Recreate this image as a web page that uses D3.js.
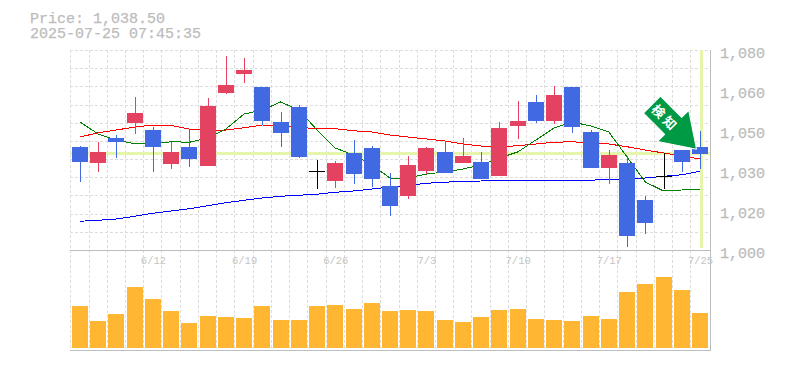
<!DOCTYPE html>
<html><head><meta charset="utf-8">
<script src="https://cdn.jsdelivr.net/npm/d3@7"></script>
<style>
html,body{margin:0;padding:0;background:#fff;overflow:hidden}
svg{display:block}
text{font-family:"Liberation Mono",monospace;fill:#bcbcbc}
</style></head><body>
<svg id="c" width="785" height="370"></svg>
<script>
const titleLines = ["Price: 1,038.50", "2025-07-25 07:45:35"];
const dates = ["6/6","6/9","6/10","6/11","6/12","6/13","6/16","6/17","6/18","6/19","6/20","6/23","6/24","6/25","6/26","6/27","6/30","7/1","7/2","7/3","7/4","7/7","7/8","7/9","7/10","7/11","7/14","7/15","7/16","7/17","7/18","7/22","7/23","7/24","7/25"];
const dateTicks = ["6/12","6/19","6/26","7/3","7/10","7/17","7/25"];
const priceTicks = [1000,1016,1032,1048,1064,1080];
const opens  = [1041.2,1034.8,1044.8,1050.8,1048,1034.4,1041.2,1033.6,1062.8,1070.4,1065.2,1051.2,1057.2,1031.6,1027.6,1038.8,1040.8,1025.6,1021.6,1031.6,1039.2,1034.8,1035.2,1029.6,1049.6,1059.2,1051.6,1065.2,1047.2,1032.8,1034.8,1020,1029.6,1040,1041.2];
const highs  = [1041.6,1043.2,1046,1061.2,1049.2,1043.2,1048,1060.8,1077.6,1076.8,1065.2,1055.2,1058,1036,1035.6,1044,1041.6,1030.8,1037.6,1041.2,1043.6,1044.8,1039.2,1051.2,1059.6,1062,1065.6,1065.2,1048,1040,1037.6,1021.6,1038.8,1040,1047.6];
const lows   = [1027.2,1031.2,1036.8,1046.4,1031.2,1032.4,1033.2,1033.6,1062.4,1066.8,1050,1041.2,1036.8,1024.4,1024.8,1026.4,1025.2,1013.6,1020.4,1030.4,1030.8,1034.8,1028.4,1029.6,1044.4,1050.8,1050.4,1046.8,1032.8,1026.4,1001.2,1006.4,1024.4,1031.2,1032.4];
const closes = [1035.2,1039.2,1043.2,1054.8,1041.2,1039.2,1036.4,1057.6,1066,1072,1051.6,1046.8,1037.2,1031.6,1034.8,1030.4,1028.4,1017.6,1034,1040.8,1030.8,1037.6,1028.4,1048.8,1051.6,1051.6,1062,1049.2,1032.8,1038,1005.6,1010.8,1029.6,1035.2,1038.5];
const maShort = [1051.2,1046.4,1044,1042.5,1042.5,1043.3,1043.1,1044.8,1048.4,1054.4,1056,1059.2,1056,1048,1040.8,1038,1034,1028.8,1028.8,1030.4,1031.2,1032.4,1034,1036.8,1039.2,1044,1048.8,1051.2,1049.6,1047.2,1037.2,1027.2,1023.6,1024,1024.4];
const maMid = [1045.2,1046.9,1048,1049.2,1050,1049.8,1048.4,1047.7,1048,1048.9,1050,1049.8,1048.9,1048.7,1048.5,1047.7,1047.2,1046,1045.2,1044.4,1043.6,1042.4,1041.6,1041.3,1041.7,1042.4,1043.1,1043.3,1042.8,1042.4,1041.3,1040,1038.8,1037.6,1036.4];
const maLong = [1011.5,1011.9,1012.4,1013.5,1014.7,1015.6,1016.5,1017.7,1018.9,1019.9,1020.8,1021.5,1021.9,1022.3,1023.1,1023.6,1024.4,1025.2,1025.9,1026.7,1027.1,1027.5,1027.6,1027.9,1027.9,1027.9,1027.9,1027.9,1027.9,1028.3,1028.4,1028.8,1029.5,1030.1,1031.5];
const volumes = [125,80,101,182,146,110,74,95,92,89,125,83,83,125,128,116,134,110,113,110,83,77,92,113,116,86,83,80,95,86,167,191,212,173,104];
const lastPrice = 1038.5;
const signalText = "検知";

const svg = d3.select("#c");
const L=70, R=710, T=50, B=250, VB=350;
const BODY=16;
const x = d3.scalePoint().domain(dates).range([80,700]);
const y = d3.scaleLinear().domain([1000,1080]).range([B,T]);
const v = d3.scaleLinear().domain([0,294]).range([348,250]);
const idx = dates.map((_,i)=>i);
const px = n=>Math.round(n)+0.5;

// grid
const grid = svg.append("g").attr("stroke","#dcdcdc").attr("stroke-dasharray","3 2").attr("shape-rendering","crispEdges");
d3.range(0,12).forEach(k=>{
  const gy=px(T+(B-T)*k/11);
  if(k<11) grid.append("line").attr("x1",L).attr("x2",R).attr("y1",gy).attr("y2",gy);
});
dates.forEach(d=>{
  const gx=px(x(d)-9.7);
  grid.append("line").attr("x1",gx).attr("x2",gx).attr("y1",T).attr("y2",VB);
});

// highlights
const hl = svg.append("g").attr("stroke","#e5f5ab").attr("stroke-width",3).attr("shape-rendering","crispEdges");
hl.append("line").attr("x1",L).attr("x2",R).attr("y1",y(lastPrice)).attr("y2",y(lastPrice));
hl.append("line").attr("x1",x(dates[34])+1).attr("x2",x(dates[34])+1).attr("y1",T).attr("y2",B-2);

// frame
const frame = svg.append("g").attr("stroke","#bdbdbd").attr("shape-rendering","crispEdges");
frame.append("line").attr("x1",L).attr("x2",R+1).attr("y1",B+.5).attr("y2",B+.5);
frame.append("line").attr("x1",L).attr("x2",R+1).attr("y1",VB+.5).attr("y2",VB+.5);
frame.append("line").attr("x1",R+.5).attr("x2",R+.5).attr("y1",T).attr("y2",VB);

// MAs
const line = d3.line().x((d,i)=>x(dates[i])).y(d=>y(d));
[[maLong,"#0000ff"],[maMid,"#ff0000"],[maShort,"#008000"]].forEach(([s,c])=>{
  svg.append("path").attr("d",line(s)).attr("fill","none").attr("stroke",c).attr("stroke-width",1).attr("shape-rendering","crispEdges");
});

// candles
const BLUE="#4169e1", RED="#e34260";
const col=i=>closes[i]===opens[i]?"#000":(closes[i]>opens[i]?RED:BLUE);
const cg = svg.append("g").attr("shape-rendering","crispEdges");
cg.selectAll("line.w").data(idx).join("line").attr("class","w")
  .attr("x1",i=>px(x(dates[i]))).attr("x2",i=>px(x(dates[i])))
  .attr("y1",i=>y(highs[i])).attr("y2",i=>y(lows[i])).attr("stroke",col);
cg.selectAll("rect.b").data(idx.filter(i=>closes[i]!==opens[i])).join("rect").attr("class","b")
  .attr("x",i=>Math.round(x(dates[i])-BODY/2)).attr("width",BODY)
  .attr("y",i=>y(Math.max(opens[i],closes[i])))
  .attr("height",i=>Math.abs(y(opens[i])-y(closes[i]))).attr("fill",col);
cg.selectAll("line.d").data(idx.filter(i=>closes[i]===opens[i])).join("line").attr("class","d")
  .attr("x1",i=>x(dates[i])-BODY/2).attr("x2",i=>x(dates[i])+BODY/2)
  .attr("y1",i=>y(opens[i])+.5).attr("y2",i=>y(opens[i])+.5).attr("stroke","#000");

// volume
svg.append("g").attr("shape-rendering","crispEdges").selectAll("rect").data(idx).join("rect")
  .attr("x",i=>Math.round(x(dates[i])-BODY/2)).attr("width",BODY)
  .attr("y",i=>v(volumes[i])).attr("height",i=>v(0)-v(volumes[i])).attr("fill","#ffb733");

// signal arrow, anchored on the last candle
const tipX=x(dates[34])-3.5, tipY=y(closes[34])-4.5;
const arrow = svg.append("g").attr("transform",`translate(${tipX},${tipY}) rotate(45)`);
arrow.append("path").attr("d","M0,0L-33,-22L-33,-12L-63,-12L-63,12L-33,12L-33,22Z")
  .attr("fill","#009944").attr("stroke","#fff").attr("stroke-width",1).attr("stroke-linejoin","round");
arrow.append("text").attr("x",-44).attr("y",5).attr("text-anchor","middle")
  .style("font-family",'"Noto Sans CJK JP"').style("font-size","13px").style("font-weight","700").style("fill","#fff")
  .attr("letter-spacing",3).text(signalText);

// axes
const yAxis = d3.axisRight(y).tickValues(priceTicks).tickSize(0).tickPadding(0)
  .tickFormat(d=>d3.format(",")(Math.round(d/10)*10));
const ya = svg.append("g").attr("transform",`translate(720,3)`).call(yAxis);
ya.select(".domain").remove();
ya.selectAll("text").style("font-size","15px").style("fill","#bcbcbc").style("font-family",'"Liberation Mono"')
  .attr("stroke","#bcbcbc").attr("stroke-width",0.25);
const xAxis = d3.axisBottom(x).tickValues(dateTicks).tickSize(0).tickPadding(0);
const xa = svg.append("g").attr("transform",`translate(0,${B+7})`).call(xAxis);
xa.select(".domain").remove();
xa.selectAll("text").style("font-size","10.5px").style("fill","#c4c4c4").style("font-family",'"Liberation Mono"');

// title
svg.selectAll("text.t").data(titleLines).join("text").attr("class","t")
  .attr("x",30).attr("y",(d,i)=>23+i*14.5).style("font-size","15px")
  .attr("stroke","#bcbcbc").attr("stroke-width",0.25).text(d=>d);
</script></body></html>
